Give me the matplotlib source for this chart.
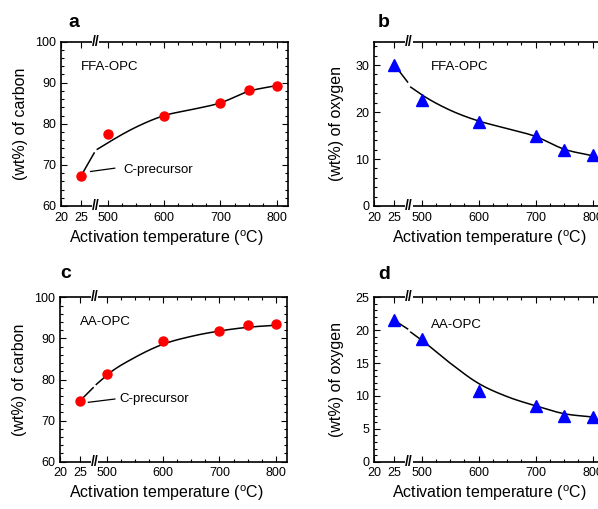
import numpy as np
import matplotlib
matplotlib.use('Agg')
import matplotlib.pyplot as plt
from matplotlib.ticker import FixedLocator, MultipleLocator

plt.rcParams['font.family'] = 'Liberation Sans'
plt.rcParams['mathtext.fontset'] = 'custom'
plt.rcParams['mathtext.rm'] = 'Liberation Sans'

# measured points
temps = [25, 500, 600, 700, 750, 800]
carbon_ffa = [67.3, 77.5, 82.0, 85.1, 88.2, 89.3]
oxygen_ffa = [30.1, 22.6, 17.9, 15.0, 11.9, 10.8]
carbon_aa = [74.8, 81.3, 89.3, 91.8, 93.2, 93.4]
oxygen_aa = [21.5, 18.7, 10.8, 8.4, 7.0, 6.8]

# guide curves: short piece before the axis break, smooth piece after it
fit_left_t = [25, 28.3]
fit_right_t = [481, 500, 550, 600, 650, 700, 750, 800]
fit_carbon_ffa_left = [67.3, 72.9]
fit_carbon_ffa_right = [73.8, 75.4, 79.2, 82.0, 83.5, 85.1, 87.9, 89.3]
fit_oxygen_ffa_left = [30.1, 26.4]
fit_oxygen_ffa_right = [25.3, 23.7, 20.4, 18.1, 16.5, 14.8, 12.1, 10.7]
fit_carbon_aa_left = [74.8, 78.0]
fit_carbon_aa_right = [78.8, 81.1, 85.4, 88.6, 90.5, 91.8, 92.7, 93.2]
fit_oxygen_aa_left = [21.5, 20.2]
fit_oxygen_aa_right = [19.7, 18.5, 15.0, 11.9, 9.9, 8.5, 7.3, 6.8]

xticks = [20, 25, 500, 600, 700, 800]
xminor = list(range(525, 800, 25))

# broken x axis: 20..28.7 stretched, then 478..820 as is
K = 7.1
P25 = 452.0
BRK = 478.0
X_LO = 25 + (BRK - P25) / K


def fwd(x):
	x = np.asarray(x, dtype=float)
	return np.where(x < X_LO, P25 + (x - 25) * K, np.maximum(x, BRK))


def inv(p):
	p = np.asarray(p, dtype=float)
	return np.where(p < BRK, 25 + (p - P25) / K, p)


def smooth(xs, ys, n=40):
	xs = np.asarray(xs, dtype=float)
	ys = np.asarray(ys, dtype=float)
	m = np.gradient(ys, xs)
	outx, outy = [], []
	t = np.linspace(0, 1, n)
	for i in range(len(xs) - 1):
		h = xs[i+1] - xs[i]
		h00 = 2*t**3 - 3*t**2 + 1
		h10 = t**3 - 2*t**2 + t
		h01 = -2*t**3 + 3*t**2
		h11 = t**3 - t**2
		outx.append(xs[i] + t*h)
		outy.append(h00*ys[i] + h10*h*m[i] + h01*ys[i+1] + h11*h*m[i+1])
	return np.concatenate(outx), np.concatenate(outy)


W, H = 598.0, 509.0
fig = plt.figure(figsize=(W/100, H/100), dpi=100)


def panel(left, top, width, letter, letter_xy, tag, tag_xy, y, fl, fr, ylim, ymaj, ymin,
		ylabel, marker, color, ms, xlab_x, ylab_x, note=None):
	ax = fig.add_axes([left/W, 1 - (top + 164.4)/H, width/W, 164.4/H])
	ax.set_xscale('function', functions=(fwd, inv))
	ax.set_xlim(20, 820)
	ax.set_ylim(*ylim)

	ax.plot(fit_left_t, fl, color='k', lw=1.1, zorder=2)
	sx, sy = smooth(fit_right_t, fr)
	ax.plot(sx, sy, color='k', lw=1.1, zorder=2)
	ax.plot(temps, y, linestyle='none', marker=marker, color=color, ms=ms, mec=color, zorder=3)

	ax.xaxis.set_major_locator(FixedLocator(xticks))
	ax.xaxis.set_minor_locator(FixedLocator(xminor))
	ax.set_xticklabels([str(v) for v in xticks])
	ax.yaxis.set_major_locator(MultipleLocator(ymaj))
	ax.yaxis.set_minor_locator(MultipleLocator(ymin))
	ax.tick_params(which='both', direction='in', top=True, right=True, width=0.8, labelsize=9)
	ax.tick_params(which='major', length=4)
	ax.tick_params(which='minor', length=2.2)
	ax.tick_params(axis='x', pad=4)
	ax.tick_params(axis='y', pad=3.5)
	for s in ax.spines.values():
		s.set_linewidth(1.2)

	for yy in (0, 1):
		ax.text(BRK, yy, '//', transform=ax.get_xaxis_transform(), ha='center', va='center',
			fontsize=10, fontweight='bold', bbox=dict(fc='white', ec='none', pad=0),
			clip_on=False, zorder=5)

	ax.set_xlabel(r'Activation temperature ($^{\rm o}$C)', fontsize=11.5)
	ax.xaxis.set_label_coords(xlab_x, -0.134)
	ax.set_ylabel(ylabel, fontsize=11.5)
	ax.yaxis.set_label_coords(ylab_x, 0.5)

	ax.text(tag_xy[0], tag_xy[1], tag, transform=ax.transAxes, fontsize=9.5, va='center', ha='left')
	if note is not None:
		(x0, y0), (x1, y1), (tx, ty) = note
		ax.plot([x0, x1], [y0, y1], color='k', lw=0.9)
		ax.text(tx, ty, 'C-precursor', fontsize=9.5, va='center', ha='left')

	fig.text(letter_xy[0]/W, 1 - letter_xy[1]/H, letter, fontsize=14, fontweight='bold',
		ha='center', va='baseline')
	return ax


panel(61, 41.6, 227, 'a', (74, 26.7), 'FFA-OPC', (0.088, 0.848), carbon_ffa,
	fit_carbon_ffa_left, fit_carbon_ffa_right, (60, 100), 10, 2, '(wt%) of carbon',
	'o', 'red', 6.5, 0.465, -0.145,
	note=((27.4, 68.4), (512, 69.2), (528, 68.8)))
panel(374, 41.6, 230, 'b', (384, 26.7), 'FFA-OPC', (0.246, 0.843), oxygen_ffa,
	fit_oxygen_ffa_left, fit_oxygen_ffa_right, (0, 35), 10, 2, '(wt%) of oxygen',
	'^', 'blue', 8, 0.5, -0.131)
panel(60, 297.3, 227, 'c', (66, 278.5), 'AA-OPC', (0.088, 0.852), carbon_aa,
	fit_carbon_aa_left, fit_carbon_aa_right, (60, 100), 10, 2, '(wt%) of carbon',
	'o', 'red', 6.5, 0.468, -0.145,
	note=((27.1, 74.45), (514, 75.25), (522, 75.25)))
panel(374, 297.3, 230, 'd', (384.5, 279), 'AA-OPC', (0.246, 0.832), oxygen_aa,
	fit_oxygen_aa_left, fit_oxygen_aa_right, (0, 25), 5, 1, '(wt%) of oxygen',
	'^', 'blue', 8, 0.5, -0.131)

fig.savefig('out.png', dpi=100)
